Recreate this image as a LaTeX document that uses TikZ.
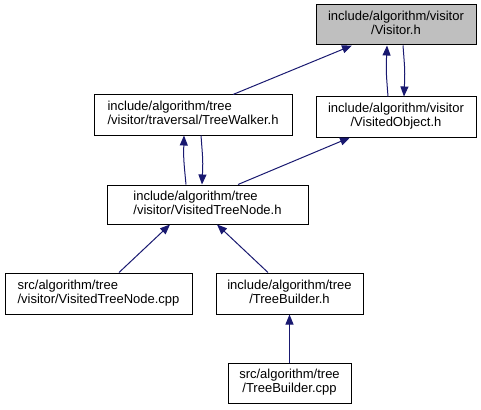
\documentclass[tikz,border=0pt]{standalone}
\usepackage{fontspec}
\setmainfont{Liberation Sans}
\usetikzlibrary{calc,arrows.meta}
\definecolor{edgec}{HTML}{191970}
\definecolor{hlfill}{HTML}{BFBFBF}
\newcommand{\twoline}[2]{\begin{tabular}{@{}l@{}}#1\\\multicolumn{1}{@{}c@{}}{#2}\end{tabular}}
\tikzset{
  fbox/.style={draw=black, line width=1pt, rectangle, inner sep=0pt,
    font=\fontsize{13}{14}\selectfont, anchor=center},
  dep/.style={draw=edgec, line width=1pt, -{Triangle[length=10pt,width=8pt]}},
  x=1pt, y=1pt
}
\begin{document}
\begin{tikzpicture}
\useasboundingbox (0,0) rectangle (481,-409);
\node[fbox, fill=hlfill, minimum width=160, minimum height=40] (visitor) at (396,-25) {\twoline{include/algorithm/visitor}{/Visitor.h}};
\node[fbox, minimum width=160, minimum height=40] (vobj) at (396,-117) {\twoline{include/algorithm/visitor}{/VisitedObject.h}};
\node[fbox, minimum width=198, minimum height=40] (walker) at (193,-115) {\twoline{include/algorithm/tree}{/visitor/traversal/TreeWalker.h}};
\node[fbox, minimum width=201, minimum height=39] (vtn) at (207.5,-204.5) {\twoline{include/algorithm/tree}{/visitor/VisitedTreeNode.h}};
\node[fbox, minimum width=187, minimum height=41] (vtncpp) at (98.5,-293.5) {\twoline{src/algorithm/tree}{/visitor/VisitedTreeNode.cpp}};
\node[fbox, minimum width=147, minimum height=41] (tbh) at (289.5,-293.5) {\twoline{include/algorithm/tree}{/TreeBuilder.h}};
\node[fbox, minimum width=123, minimum height=40] (tbcpp) at (289.5,-383) {\twoline{src/algorithm/tree}{/TreeBuilder.cpp}};

\draw[dep] ($(walker.north)+(40,0)$) -- ($(visitor.south)+(-44,0)$);
\draw[dep] ($(vobj.north)+(-8,0)$) .. controls ($(vobj.north)+(-10,26)$) .. ($(visitor.south)+(-9,0)$);
\draw[dep] ($(visitor.south)+(7,0)$) .. controls ($(visitor.south)+(9,-26)$) .. ($(vobj.north)+(8,0)$);
\draw[dep] ($(vtn.north)+(30.5,0)$) -- ($(vobj.south)+(-46,0)$);
\draw[dep] ($(vtn.north)+(-21.5,0)$) .. controls ($(vtn.north)+(-24,26)$) .. ($(walker.south)+(-9,0)$);
\draw[dep] ($(walker.south)+(8,0)$) .. controls ($(walker.south)+(10,-26)$) .. ($(vtn.north)+(-5.5,0)$);
\draw[dep] ($(vtncpp.north)+(20.5,0)$) -- ($(vtn.south)+(-37.5,0)$);
\draw[dep] ($(tbh.north)+(-21.5,0)$) -- ($(vtn.south)+(9.5,0)$);
\draw[dep] (tbcpp.north) -- (tbh.south);
\end{tikzpicture}
\end{document}
